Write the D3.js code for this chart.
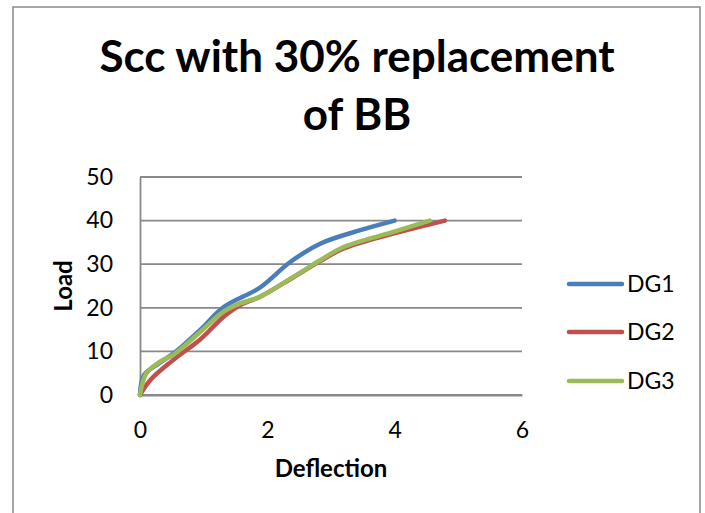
<!DOCTYPE html>
<html>
<head>
<meta charset="utf-8">
<script src="https://cdn.jsdelivr.net/npm/d3@7"></script>
<style>
  html, body { margin: 0; padding: 0; background: #fff; }
  svg { display: block; font-family: Lato, "Open Sans", sans-serif; }
</style>
</head>
<body>
<svg id="chart" width="705" height="513"></svg>
<script>
const titleLines = ["Scc with 30% replacement", "of BB"];
const xLabel = "Deflection";
const yLabel = "Load";
const xTicks = [0, 2, 4, 6];
const yTicks = [0, 10, 20, 30, 40, 50];
const seriesNames = ["DG1", "DG2", "DG3"];
const seriesColors = ["#4a7ebb", "#c0504d", "#9bbb59"];

const dg1X = [0, 0.06, 0.3, 0.55, 0.95, 1.32, 1.88, 2.36, 2.83, 3.46, 4.0];
const dg1Y = [0, 4.5, 7.3, 9.8, 15.0, 20.2, 24.6, 30.5, 34.7, 37.8, 40];
const dg2X = [0, 0.16, 0.52, 0.95, 1.31, 1.57, 1.88, 2.41, 2.83, 3.2, 3.98, 4.79];
const dg2Y = [0, 3.4, 8.0, 12.8, 17.9, 20.6, 22.5, 27.0, 30.7, 33.6, 37.0, 40];
const dg3X = [0, 0.1, 0.31, 0.52, 0.95, 1.31, 1.57, 1.88, 2.41, 2.83, 3.19, 3.98, 4.55];
const dg3Y = [0, 5.0, 7.6, 9.2, 14.5, 19.1, 21.0, 22.5, 27.1, 30.9, 33.9, 37.4, 40];

const seriesX = [dg1X, dg2X, dg3X];
const seriesY = [dg1Y, dg2Y, dg3Y];

const svg = d3.select("#chart");
const W = 705, H = 513;
const plot = { left: 140, right: 522, top: 177, bottom: 395 };
const gridColor = "#898989";

svg.append("rect").attr("width", W).attr("height", H).attr("fill", "#fff");
svg.append("rect").attr("x", 13).attr("y", 7).attr("width", 687).attr("height", 540)
  .attr("fill", "none").attr("stroke", gridColor).attr("stroke-width", 1.5);

const x = d3.scaleLinear().domain([0, 6]).range([plot.left, plot.right]);
const y = d3.scaleLinear().domain([0, 50]).range([plot.bottom, plot.top]);

// Title
const titleG = svg.append("g");
const baselines = [72, 130];
titleLines.forEach((t, i) => {
  titleG.append("text").attr("x", 357).attr("y", baselines[i])
    .attr("text-anchor", "middle").attr("font-weight", "bold")
    .attr("font-size", 40).attr("fill", "#000").text(t);
});
const first = titleG.select("text").node();
const w0 = first.getComputedTextLength();
const fs = Math.min(44, 40 * 520 / w0);
titleG.selectAll("text").attr("font-size", fs);

// Gridlines
svg.append("g").selectAll("line").data(yTicks).join("line")
  .attr("x1", plot.left).attr("x2", plot.right)
  .attr("y1", d => y(d)).attr("y2", d => y(d))
  .attr("stroke", gridColor).attr("stroke-width", 1.8);

// Y axis
const yAxis = svg.append("g").attr("transform", `translate(${plot.left},0)`)
  .call(d3.axisLeft(y).tickValues(yTicks).tickFormat(d3.format("d")).tickSize(0).tickPadding(27));
yAxis.attr("font-size", 23).attr("font-family", "Lato, sans-serif");
yAxis.select(".domain").attr("stroke", gridColor).attr("stroke-width", 1.8);
yAxis.selectAll("text").attr("fill", "#000");

// X axis
const xAxis = svg.append("g").attr("transform", `translate(0,${plot.bottom})`)
  .call(d3.axisBottom(x).tickValues(xTicks).tickFormat(d3.format("d")).tickSize(0).tickPadding(27));
xAxis.attr("font-size", 23).attr("font-family", "Lato, sans-serif");
xAxis.select(".domain").attr("stroke", gridColor).attr("stroke-width", 1.8);
xAxis.selectAll("text").attr("fill", "#000");

// Axis titles
svg.append("text").attr("x", (plot.left + plot.right) / 2).attr("y", 477)
  .attr("text-anchor", "middle").attr("font-weight", "bold").attr("font-size", 24)
  .text(xLabel);
svg.append("text").attr("transform", `translate(72,${(plot.top + plot.bottom) / 2}) rotate(-90)`)
  .attr("text-anchor", "middle").attr("font-weight", "bold").attr("font-size", 24)
  .text(yLabel);

// Lines
const line = d3.line().x(d => x(d[0])).y(d => y(d[1])).curve(d3.curveCatmullRom.alpha(0.5));
seriesNames.forEach((name, i) => {
  const pts = seriesX[i].map((v, j) => [v, seriesY[i][j]]);
  svg.append("path").datum(pts).attr("d", line)
    .attr("fill", "none").attr("stroke", seriesColors[i]).attr("stroke-width", 4.5)
    .attr("stroke-linecap", "round").attr("stroke-linejoin", "round");
});

// Legend
const legendY = [284, 332, 381];
seriesNames.forEach((name, i) => {
  svg.append("line").attr("x1", 569).attr("x2", 622)
    .attr("y1", legendY[i]).attr("y2", legendY[i])
    .attr("stroke", seriesColors[i]).attr("stroke-width", 4.5).attr("stroke-linecap", "round");
  svg.append("text").attr("x", 627).attr("y", legendY[i] + 8)
    .attr("font-size", 23).attr("fill", "#000").text(name);
});
</script>
</body>
</html>
